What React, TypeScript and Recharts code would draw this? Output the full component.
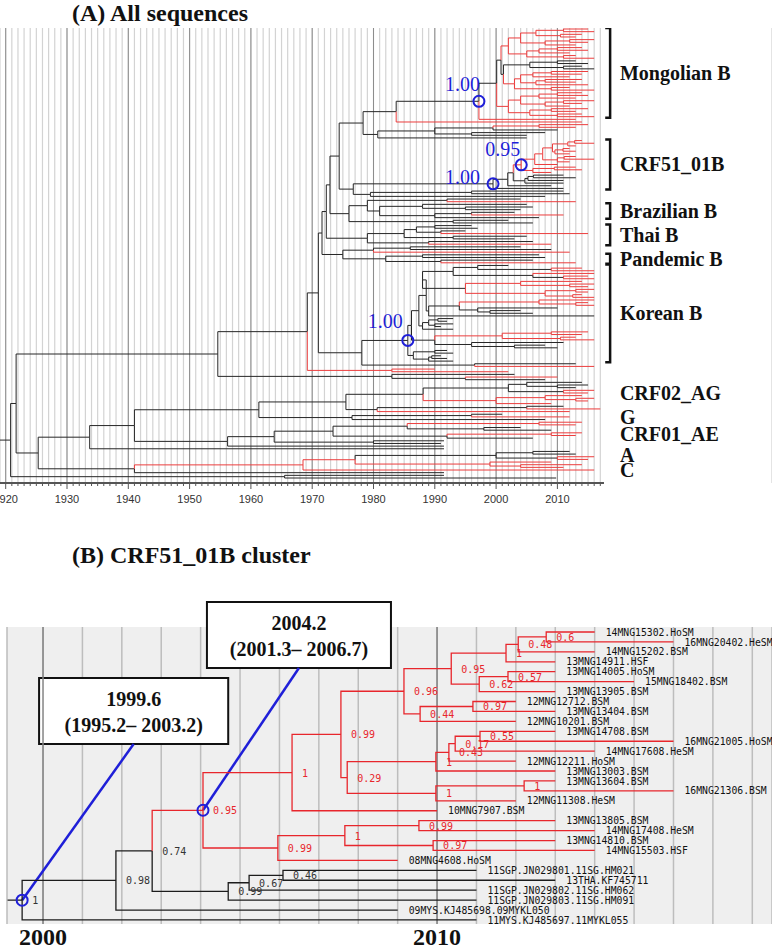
import React from 'react';
import {
  ComposedChart,
  Line,
  Scatter,
  XAxis,
  YAxis,
  CartesianGrid,
  ReferenceLine,
  ReferenceArea,
} from 'recharts';

// mini newick used below:
//   (a,b)YEAR      internal node with its date
//   YEAR | NAME@YEAR   tip with sampling date
//   r / k prefix   red / black branch from here down
//   *  circled node, [x] posterior, {key} named clade

// ---- (A) all sequences ----
const mongolianTop = `r((((2015,2016)2011,(2014,2013)2010.5)2006.5,((2016,2015)2012,2013)2008)2004,
  (((2014,2015)2010,2012)2007,(2013,2016)2011)2005)2002`;
const mongolianMid = `(k((2013,2015)2010,(2014,2016)2011)2005.5,
  r((((2015,2014)2009,2012)2006,((2014,2013)2008,2015)2006.5)2004,(2012,2016)2009)2003)2001.2`;
const mongolianLow = `r((((2014,2015)2010,2013)2007,((2016,2014)2011,2012)2008)2004,
  ((2015,2013)2009,(2014,2016)2010)2005.5)2002`;
const mongolianSister = `(((r(2015,2013)2007,2010)1999.5,(2008,2005)1996)1990,2005)1980.7`;
const mongolianBlock = `((((${mongolianTop},${mongolianMid})2000.8,${mongolianLow})2000.1{mongol},r2013)1997.2*[1.00],r2014)1983.7`;

const crf51Red = `r((((((2014,2016)2012.8,2013)2011.7,((2012,2013)2010.9,2012)2009.6)2009.2,
  ((2013,2016)2011.1,2012)2010)2007.6,2010)2006.3,((2013,2014)2009.5,2009)2006)2004.1*[0.95]`;
const crf51Clade = `(((${crf51Red},(((2011,2013)2006.1,2011)2005.2,2011)2004.7)2002.8,2009)2001.9,2011)1999.5*[1.00]{crf51}`;
const crf51Sister = `((2011,2012)1996,2008)1979.5`;

const brazilianB = `(((2004,r2013)1992,((2005,(2006,2004)1995)1988,((2003,r2011)1996,2007)1990)1981{brazil})1979,
  (2002,2006)1993)1976`;
const thaiB = `((((1996,1997)1990,(1995,r2015)1991)1987,(2005,2003)1993)1985,(2006,r2009)1989)1979{thai}`;
const pandemicB = `(((2004,2009)1986,r2012)1980,((2007,2008)1988,(2006,r2013)1991)1982{pandemic})1975`;

const koreanA = `(((2002,(r2014,r2016)2009)1997,(r2016,(r2015,r2016)2011)2006)1993,
  (r(2014,(2016,2015)2012)2004,r((2016,2015)2013,(2014,2016)2012.5)2008)1995)1988`;
const koreanB2 = `((r(2016,(2015,2016)2013)2007,(2010,(2004,2006)1999)1997)1994,2016)1989`;
const koreanC = `(((1993,1992)1990.5,(1993,1991)1990)1989,1993)1988`;
const koreanD = `(r((2015,2014)2009,(2013,2016)2010.5)2001,(2011,(2008,2010)2003)1996)1990`;
const koreanE = `((1992,1993)1990,((1991,1992)1989.5,1993)1989)1986.5`;
const koreanClade = `((((${koreanA},${koreanB2})1988.6,${koreanC})1987.4,${koreanD})1986.2,${koreanE})1985.6*[1.00]{korean}`;

const subtypeB = `((((((((${mongolianBlock},${mongolianSister})1978.3,(${crf51Clade},${crf51Sister})1976.7)1974.4,
  ${brazilianB})1972.9,${thaiB})1972.3,${pandemicB})1971.6,
  (${koreanClade},(2013,r2016)1996.5)1978.1)1971,r(1990,2002)1983)1969.2,
  (2003,(r2010,2008)1995)1983)1954.6`;

const crf02 = `(((2014,(2015,2013)2010)2005,(r2016,r2015)2011)2002,r((2014,(2016,2015)2013)2008,2009)2000)1988.1{crf02}`;
const subtypeG = `((2011,r2017)2005,r2012)1980.6`;
const subtypeG2 = `((2001,r2012)1996,2008)1976.5{g}`;
const crf01 = `((((r(2014,2013)2007,(2004,2009)1998)1985.5,(r(2014,2013)2009,2006)1992)1973.4,(1991.5,1991)1980)1963.8,1991.5)1956.2{crf01}`;
const subtypesAC = `(r((k((2012,2013)2006,(r2016,r2015)2010)2000{subA},(2009,(2014,2011)2004)1999)1977,2016{subC})1968.5,1991.5)1941`;
const nonB = `(((((${crf02},${subtypeG})1975.5,${subtypeG2})1961.3,${crf01})1941,1991.5)1933.7,${subtypesAC})1925.3`;

const allSequencesTree = `((${subtypeB},${nonB})1921.7,(1991.5,2009.8)1965.5)1920.8`;

const cladeKeys = ['mongol', 'crf51', 'brazil', 'thai', 'pandemic', 'korean', 'crf02', 'g', 'crf01', 'subA', 'subC'];
const cladeNames = ['Mongolian B', 'CRF51_01B', 'Brazilian B', 'Thai B', 'Pandemic B', 'Korean B', 'CRF02_AG', 'G', 'CRF01_AE', 'A', 'C'];
const cladeBracket = [true, true, true, true, true, true, false, false, false, false, false];

const decadesA = [1920, 1930, 1940, 1950, 1960, 1970, 1980, 1990, 2000, 2010];

// ---- (B) CRF51_01B cluster ----
const cladeS = `(14MNG15302.HoSM@2014,16MNG20402.HeSM@2016)2012.77[0.6]`;
const cladeP = `((${cladeS},14MNG15202.BSM@2014)2012.06[0.48],13MNG14911.HSF@2013)2011.75[1]`;
const cladeU = `((13MNG14005.HoSM@2013,15MNG18402.BSM@2015)2011.80[0.57],13MNG13905.BSM@2013)2011.07[0.62]`;
const cladeO = `((12MNG12712.BSM@2012,13MNG13404.BSM@2013)2010.91[0.97],12MNG10201.BSM@2012)2009.57[0.44]`;
const cladeH = `((${cladeP},${cladeU})2010.36[0.95],${cladeO})2009.16[0.96]`;
const cladeJ = `((((13MNG14708.BSM@2013,16MNG21005.HoSM@2016)2011.09[0.55],14MNG17608.HeSM@2014)2010.46[0.17],
  12MNG12211.HoSM@2012)2010.30[0.43],13MNG13003.BSM@2013)2009.97[1]`;
const cladeL = `((13MNG13604.BSM@2013,16MNG21306.BSM@2016)2012.21[1],12MNG11308.HeSM@2012)2009.97[1]`;
const cladeE = `((${cladeH},(${cladeJ},${cladeL})2007.72[0.29])2007.56[0.99],10MNG7907.BSM@2010)2006.32[1]`;
const cladeF = `(((13MNG13805.BSM@2013,14MNG17408.HeSM@2014)2009.54[0.99],(13MNG14810.BSM@2013,14MNG15503.HSF@2014)2009.90[0.97])2007.66[1],
  08MNG4608.HoSM@2009)2005.96[0.99]`;
const cladeK = `(((11SGP.JN029801.11SG.HM021@2011,13THA.KF745711@2013)2006.09[0.46],11SGP.JN029802.11SG.HM062@2011)2005.23[0.67],
  11SGP.JN029803.11SG.HM091@2011)2004.70[0.99]`;
const clusterTree = `(((r(${cladeE},${cladeF})2004.06*[0.95],${cladeK})2002.77[0.74],09MYS.KJ485698.09MYKL050@2009)2001.85[0.98],
  11MYS.KJ485697.11MYKL055@2011)1999.47*[1]`;

const calloutEstimate = ['1999.6', '2004.2'];
const calloutInterval = ['(1995.2\u2013 2003.2)', '(2001.3\u2013 2006.7)'];
const decadesB = [2000, 2010];

// ---------- tree helpers ----------
type TreeNode = {
  t: number;
  color: 'red' | 'black';
  children: TreeNode[];
  name?: string;
  label?: string;
  circle?: boolean;
  tag?: string;
  r: number;
  first: number;
  last: number;
};

function parseTree(src: string): TreeNode {
  const s = src.replace(/\s+/g, '');
  let i = 0;
  const readUntil = (stops: string) => {
    const st = i;
    while (i < s.length && !stops.includes(s[i])) i++;
    return s.slice(st, i);
  };
  const node = (inherit: 'red' | 'black'): TreeNode => {
    let color = inherit;
    if (s[i] === 'r') { color = 'red'; i++; } else if (s[i] === 'k') { color = 'black'; i++; }
    const n: TreeNode = { t: 0, color, children: [], r: 0, first: 0, last: 0 };
    if (s[i] === '(') {
      i++;
      n.children.push(node(color));
      while (s[i] === ',') { i++; n.children.push(node(color)); }
      i++;
      n.t = parseFloat(readUntil(',)*[{'));
    } else {
      const tok = readUntil(',)*[{');
      const at = tok.indexOf('@');
      if (at >= 0) { n.name = tok.slice(0, at); n.t = parseFloat(tok.slice(at + 1)); } else n.t = parseFloat(tok);
    }
    if (s[i] === '*') { n.circle = true; i++; }
    if (s[i] === '[') { i++; n.label = readUntil(']'); i++; }
    if (s[i] === '{') { i++; n.tag = readUntil('}'); i++; }
    return n;
  };
  return node('black');
}

function layoutTree(root: TreeNode) {
  let row = 0;
  const walk = (n: TreeNode) => {
    if (!n.children.length) { n.r = row; n.first = row; n.last = row; row++; return; }
    n.children.forEach(walk);
    const a = n.children[0];
    const b = n.children[n.children.length - 1];
    n.r = (a.r + b.r) / 2;
    n.first = a.first;
    n.last = b.last;
  };
  walk(root);
  return row;
}

function preorder(root: TreeNode): TreeNode[] {
  const out: TreeNode[] = [];
  const walk = (n: TreeNode) => { out.push(n); n.children.forEach(walk); };
  walk(root);
  return out;
}

type Pt = { t: number; r: number | null };
function branchPaths(root: TreeNode, stemT: number) {
  const red: Pt[] = [];
  const black: Pt[] = [];
  const push = (color: string, pts: Pt[]) => {
    const arr = color === 'red' ? red : black;
    arr.push(...pts, { t: pts[pts.length - 1].t, r: null });
  };
  push(root.color, [{ t: stemT, r: root.r }, { t: root.t, r: root.r }]);
  const walk = (n: TreeNode) => {
    n.children.forEach((c) => {
      push(c.color, [{ t: n.t, r: n.r }, { t: n.t, r: c.r }, { t: c.t, r: c.r }]);
      walk(c);
    });
  };
  walk(root);
  return { red, black };
}

// ---------- build panel A ----------
const RED_A = '#ec3d3d';
const BLACK_A = '#262626';
const BLUE = '#1f1fd8';
const SERIF = "'Liberation Serif', 'Times New Roman', serif";
const MONO = "'DejaVu Sans Mono', monospace";

const treeA = parseTree(allSequencesTree);
const tipsA = layoutTree(treeA);
const nodesA = preorder(treeA);
const A_X = [1919.07, 1919.07 + 772 / 6.13];
const pathsA = branchPaths(treeA, A_X[0]);
const A_TOP = 28;
const A_BOTTOM = 483;
const rowA = (478 - 29) / (tipsA - 1);
const A_Y0 = (A_TOP - 29) / rowA;
const A_Y = [A_Y0, A_Y0 + (A_BOTTOM - A_TOP) / rowA];
const yearsA = Array.from({ length: 98 }, (_, k) => 1920 + k);

const circleOffsetsA = [[1, -10], [-13, 0], [-1, -9], [-5, -12]];
const circlesA = nodesA
  .filter((n) => n.circle)
  .map((n, k) => ({ t: n.t, r: n.r, label: n.label, dx: circleOffsetsA[k][0], dy: circleOffsetsA[k][1] }));

const BRACKET_T = 2018.6;
const BRACKET_TICK_T = 2017.8;
const LABEL_T = 2020.2;
const clades = cladeKeys.map((key, k) => {
  const n = nodesA.find((d) => d.tag === key)!;
  return { name: cladeNames[k], bracket: cladeBracket[k], first: n.first, last: n.last };
});
const cladeLabelPts = clades.map((c) => ({ t: LABEL_T, r: (c.first + c.last) / 2, name: c.name }));
const bracketPath: Pt[] = [];
clades.filter((c) => c.bracket).forEach((c) => {
  bracketPath.push(
    { t: BRACKET_TICK_T, r: c.first - 0.4 },
    { t: BRACKET_T, r: c.first - 0.4 },
    { t: BRACKET_T, r: c.last + 0.4 },
    { t: BRACKET_TICK_T, r: c.last + 0.4 },
    { t: BRACKET_TICK_T, r: null },
  );
});

// ---------- build panel B ----------
const RED_B = '#e8262c';
const BLACK_B = '#1c1c1c';
const treeB = parseTree(clusterTree);
layoutTree(treeB);
const nodesB = preorder(treeB);
const B_X = [1999.086, 2018.5];
const pathsB = branchPaths(treeB, 1999.1);
const rowB = 9.93;
const B_Y0 = -5 / rowB;
const B_Y = [B_Y0, B_Y0 + 297 / rowB];
const yearsB = Array.from({ length: 19 }, (_, k) => 2000 + k);
const tipPtsB = nodesB.filter((n) => !n.children.length).map((n) => ({ t: n.t, r: n.r, name: n.name }));
const nodeLabelPtsB = nodesB
  .filter((n) => n.children.length && n.label)
  .map((n) => ({ t: n.t, r: n.r, label: n.label, color: n.color }));
const circlesB = nodesB.filter((n) => n.circle).map((n) => ({ t: n.t, r: n.r }));
// callout boxes (axis units) for the circled nodes, root first
const calloutBoxes = [
  { x1: 1999.9, x2: 2004.7, y1: 4.63, y2: 11.28 },
  { x1: 2004.16, x2: 2008.83, y1: -3.02, y2: 3.63 },
];

// ---------- shapes ----------
const AxisTickA = (p: any) => {
  const v = p.payload.value;
  const major = v % 10 === 0;
  return (
    <g>
      <line x1={p.x} x2={p.x} y1={p.y} y2={p.y + (major ? 6 : 3)} stroke="#555" strokeWidth={1} />
      {major && (
        <text x={p.x} y={p.y + 20} textAnchor="middle" fontSize={11} fill="#333" fontFamily="'Liberation Sans', Arial, sans-serif">
          {v}
        </text>
      )}
    </g>
  );
};

const AxisTickB = (p: any) => {
  const v = p.payload.value;
  if (!decadesB.includes(v)) return <g />;
  return (
    <text x={p.x} y={p.y + 21} textAnchor="middle" fontSize={24} fontWeight="bold" fill="#111" fontFamily={SERIF}>
      {v}
    </text>
  );
};

const cladeLabelShape = (p: any) => (
  <text x={p.cx} y={p.cy + 7} fontFamily={SERIF} fontWeight="bold" fontSize={20} fill="#111">
    {p.payload.name}
  </text>
);

const circleShapeA = (p: any) => (
  <g>
    <circle cx={p.cx} cy={p.cy} r={5.5} fill="none" stroke={BLUE} strokeWidth={2} />
    <text x={p.cx + p.payload.dx} y={p.cy + p.payload.dy} textAnchor="end" fontSize={20} fill={BLUE} fontFamily={SERIF}>
      {p.payload.label}
    </text>
  </g>
);

const circleShapeB = (p: any) => <circle cx={p.cx} cy={p.cy} r={5.5} fill="none" stroke={BLUE} strokeWidth={2} />;

const tipLabelShape = (p: any) => (
  <text x={p.cx + 11} y={p.cy + 3.6} fontFamily={MONO} fontSize={9.75} fill="#111">
    {p.payload.name}
  </text>
);

const nodeLabelShape = (p: any) => (
  <text x={p.cx + 10} y={p.cy + 4} fontFamily={MONO} fontSize={10} fill={p.payload.color === 'red' ? RED_B : '#333'}>
    {p.payload.label}
  </text>
);

const CalloutLabel = (p: any) => {
  const { x, y, width } = p.viewBox;
  const style = { fontFamily: SERIF, fontWeight: 'bold' as const, fontSize: 20, fill: '#111' };
  return (
    <g>
      <text x={x + width / 2} y={y + 28} textAnchor="middle" {...style}>{p.lines[0]}</text>
      <text x={x + width / 2} y={y + 54} textAnchor="middle" {...style}>{p.lines[1]}</text>
    </g>
  );
};

function PanelA() {
  return (
    <ComposedChart width={772} height={513} margin={{ top: A_TOP, right: 0, bottom: 0, left: 0 }}>
      <CartesianGrid vertical horizontal={false} stroke="#d3d3d3" strokeWidth={1.2} />
      <XAxis
        type="number"
        dataKey="t"
        domain={A_X}
        allowDataOverflow
        ticks={yearsA}
        interval={0}
        tickSize={0}
        tickMargin={0}
        axisLine={false}
        tickLine={false}
        height={A_TOP + 2}
        tick={AxisTickA}
      />
      <YAxis type="number" dataKey="r" domain={A_Y} allowDataOverflow reversed hide />
      {decadesA.map((d) => (
        <ReferenceLine key={d} x={d} stroke="#8d8d8d" strokeWidth={1} />
      ))}
      <ReferenceLine
        segment={[{ x: A_X[0], y: A_Y[1] }, { x: 2017.6, y: A_Y[1] }]}
        stroke="#555"
        strokeWidth={2}
        ifOverflow="visible"
      />
      <Line data={pathsA.black} dataKey="r" stroke={BLACK_A} strokeWidth={1} dot={false} activeDot={false} isAnimationActive={false} />
      <Line data={pathsA.red} dataKey="r" stroke={RED_A} strokeWidth={1} dot={false} activeDot={false} isAnimationActive={false} />
      <Line data={bracketPath} dataKey="r" stroke="#111" strokeWidth={2.5} dot={false} activeDot={false} isAnimationActive={false} />
      <Scatter data={cladeLabelPts} shape={cladeLabelShape} isAnimationActive={false} />
      <Scatter data={circlesA} shape={circleShapeA} isAnimationActive={false} />
    </ComposedChart>
  );
}

function PanelB() {
  return (
    <ComposedChart width={772} height={369} margin={{ top: 47, right: 0, bottom: 0, left: 7 }}>
      <CartesianGrid vertical horizontal={false} fill="#efefef" stroke="#bdbdbd" strokeWidth={1.5} />
      <XAxis
        type="number"
        dataKey="t"
        domain={B_X}
        allowDataOverflow
        ticks={yearsB}
        interval={0}
        tickSize={0}
        tickMargin={0}
        axisLine={false}
        tickLine={false}
        height={25}
        tick={AxisTickB}
      />
      <YAxis type="number" dataKey="r" domain={B_Y} allowDataOverflow reversed hide />
      {decadesB.map((d) => (
        <ReferenceLine key={d} x={d} stroke="#858585" strokeWidth={1.5} />
      ))}
      {circlesB.map((c, k) => (
        <ReferenceLine
          key={'cl' + k}
          segment={[
            { x: c.t, y: c.r },
            { x: (calloutBoxes[k].x1 + calloutBoxes[k].x2) / 2, y: calloutBoxes[k].y2 },
          ]}
          stroke={BLUE}
          strokeWidth={2.5}
          ifOverflow="visible"
        />
      ))}
      {calloutBoxes.map((b, k) => (
        <ReferenceArea
          key={'box' + k}
          x1={b.x1}
          x2={b.x2}
          y1={b.y1}
          y2={b.y2}
          fill="#fff"
          fillOpacity={1}
          stroke="#111"
          strokeWidth={2}
          ifOverflow="visible"
          label={<CalloutLabel lines={[calloutEstimate[k], calloutInterval[k]]} />}
        />
      ))}
      <Line data={pathsB.black} dataKey="r" stroke={BLACK_B} strokeWidth={1.3} dot={false} activeDot={false} isAnimationActive={false} />
      <Line data={pathsB.red} dataKey="r" stroke={RED_B} strokeWidth={1.3} dot={false} activeDot={false} isAnimationActive={false} />
      <Scatter data={tipPtsB} shape={tipLabelShape} isAnimationActive={false} />
      <Scatter data={nodeLabelPtsB} shape={nodeLabelShape} isAnimationActive={false} />
      <Scatter data={circlesB} shape={circleShapeB} isAnimationActive={false} />
    </ComposedChart>
  );
}

const titleStyle: React.CSSProperties = {
  position: 'absolute',
  left: 72,
  fontFamily: SERIF,
  fontWeight: 'bold',
  fontSize: 24,
  lineHeight: '26px',
  color: '#111',
  whiteSpace: 'nowrap',
};

export default function App() {
  return (
    <div style={{ position: 'absolute', left: 0, top: 0, width: 772, height: 949, background: '#fff', overflow: 'hidden' }}>
      <div style={{ position: 'absolute', left: 0, top: 0 }}>
        <PanelA />
      </div>
      <div style={{ position: 'absolute', left: 0, top: 580 }}>
        <PanelB />
      </div>
      <div style={{ ...titleStyle, top: 0 }}>(A) All sequences</div>
      <div style={{ ...titleStyle, top: 542 }}>(B) CRF51_01B cluster</div>
    </div>
  );
}
